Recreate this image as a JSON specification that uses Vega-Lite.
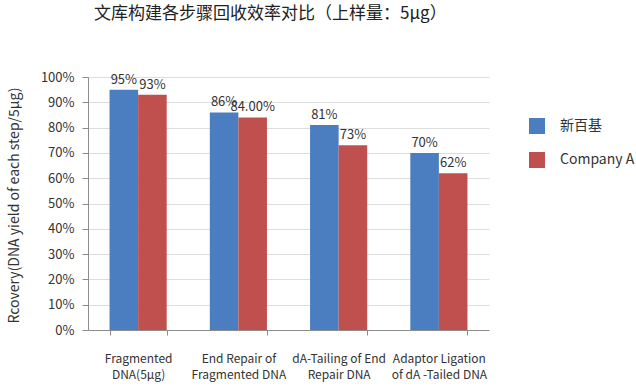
{
  "$schema": "https://vega.github.io/schema/vega-lite/v6.json",
  "width": 401,
  "height": 253,
  "autosize": {"type": "none"},
  "padding": {"left": 88, "top": 77, "right": 147, "bottom": 59},
  "background": "white",
  "title": {
    "text": "文库构建各步骤回收效率对比（上样量：5μg）",
    "anchor": "start",
    "frame": "group",
    "dx": 6,
    "offset": 48,
    "fontSize": 17,
    "fontWeight": "normal",
    "font": "Noto Sans CJK SC",
    "color": "#222222"
  },
  "config": {
    "view": {"stroke": null},
    "font": "Noto Sans CJK SC"
  },
  "data": {
    "values": [
      {"step": "Fragmented|DNA(5μg)", "company": "新百基", "value": 0.95, "label": "95%"},
      {"step": "Fragmented|DNA(5μg)", "company": "Company A", "value": 0.93, "label": "93%"},
      {"step": "End Repair of|Fragmented DNA", "company": "新百基", "value": 0.86, "label": "86%"},
      {"step": "End Repair of|Fragmented DNA", "company": "Company A", "value": 0.84, "label": "84.00%"},
      {"step": "dA-Tailing of End|Repair DNA", "company": "新百基", "value": 0.81, "label": "81%"},
      {"step": "dA-Tailing of End|Repair DNA", "company": "Company A", "value": 0.73, "label": "73%"},
      {"step": "Adaptor Ligation|of dA -Tailed DNA", "company": "新百基", "value": 0.70, "label": "70%"},
      {"step": "Adaptor Ligation|of dA -Tailed DNA", "company": "Company A", "value": 0.62, "label": "62%"}
    ]
  },
  "encoding": {
    "x": {
      "field": "step",
      "type": "nominal",
      "sort": null,
      "scale": {"paddingInner": 0.43, "paddingOuter": 0.215},
      "axis": {
        "title": null,
        "labelAngle": 0,
        "labelExpr": "split(datum.label, '|')",
        "labelFontSize": 12,
        "labelColor": "#333333",
        "labelLineHeight": 16,
        "labelPadding": 18,
        "labelBaseline": "top",
        "tickBand": "extent",
        "domainColor": "#8c8c8c",
        "tickColor": "#8c8c8c",
        "tickSize": 5,
        "grid": false
      }
    },
    "xOffset": {
      "field": "company",
      "type": "nominal",
      "sort": ["新百基", "Company A"],
      "scale": {"paddingInner": 0, "paddingOuter": 0}
    },
    "y": {
      "field": "value",
      "type": "quantitative",
      "scale": {"domain": [0, 1]},
      "axis": {
        "title": "Rcovery(DNA yield of each step/5μg)",
        "titleFontSize": 14,
        "titleFontWeight": "normal",
        "titleColor": "#333333",
        "titleX": -67,
        "titleY": 128,
        "format": "%",
        "values": [0, 0.1, 0.2, 0.3, 0.4, 0.5, 0.6, 0.7, 0.8, 0.9, 1],
        "labelFontSize": 13,
        "labelColor": "#333333",
        "labelPadding": 8,
        "domainColor": "#8c8c8c",
        "tickColor": "#8c8c8c",
        "tickSize": 6,
        "gridColor": "#dddddd",
        "gridWidth": 1
      }
    }
  },
  "layer": [
    {
      "mark": {"type": "bar"},
      "encoding": {
        "color": {
          "field": "company",
          "type": "nominal",
          "scale": {"domain": ["新百基", "Company A"], "range": ["#4a7ec0", "#c0504d"]},
          "legend": {
            "title": null,
            "orient": "none",
            "legendX": 441,
            "legendY": 41,
            "symbolType": "square",
            "symbolSize": 256,
            "symbolStrokeWidth": 0,
            "labelFontSize": 14,
            "labelColor": "#333333",
            "labelOffset": 15,
            "rowPadding": 18,
            "padding": 0
          }
        }
      }
    },
    {
      "mark": {"type": "text", "baseline": "bottom", "dy": -3, "fontSize": 13, "color": "#333333"},
      "encoding": {
        "text": {"field": "label"}
      }
    }
  ]
}
